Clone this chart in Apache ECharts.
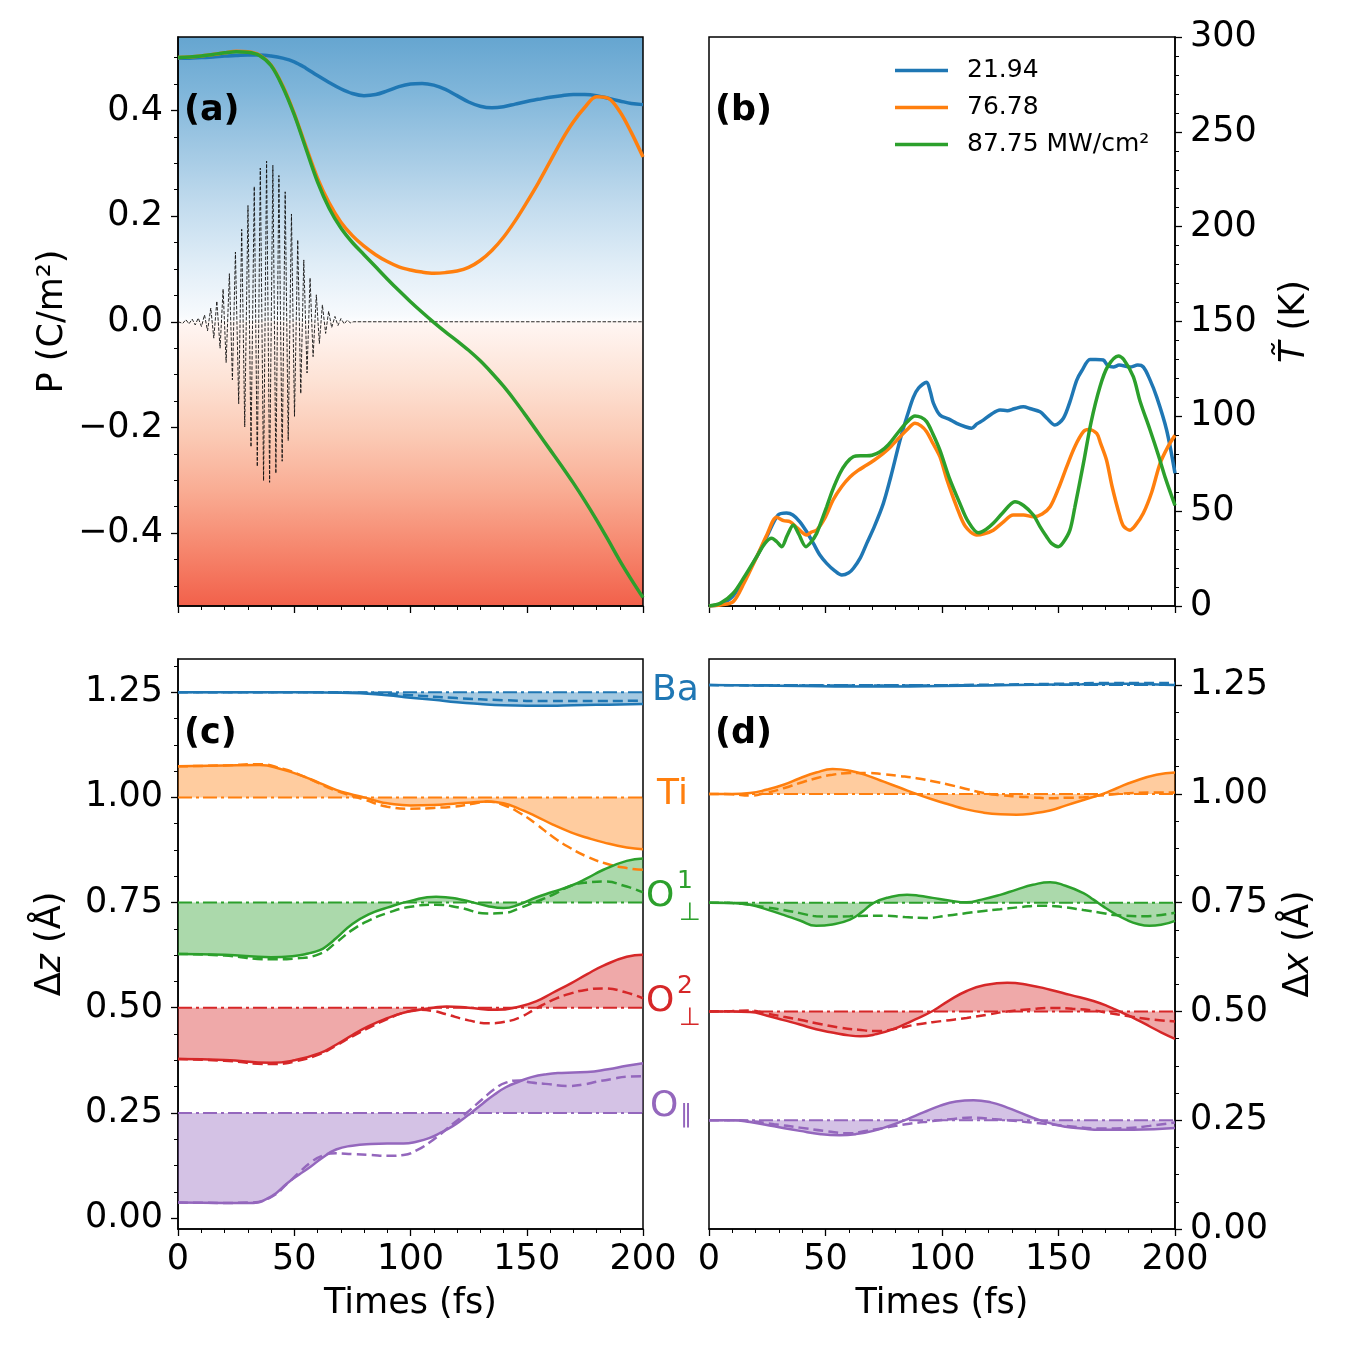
<!DOCTYPE html>
<html>
<head>
<meta charset="utf-8">
<title>Polarization, temperature and ionic displacement</title>
<script src="https://cdn.jsdelivr.net/npm/echarts@6/dist/echarts.min.js"></script>
<style>
html,body{margin:0;padding:0;background:#fff;}
#main{width:1350px;height:1350px;}
</style>
</head>
<body>
<div id="main"></div>
<script>
// ---- values ----
// (a) polarization P (C/m2), sampled every 5 fs
var aTimes = [0,5,10,15,20,25,30,35,40,45,50,55,60,65,70,75,80,85,90,95,100,105,110,115,120,125,130,135,140,145,150,155,160,165,170,175,180,185,190,195,200];
var aBlue = [0.499,0.499,0.500,0.501,0.503,0.504,0.505,0.505,0.503,0.499,0.492,0.480,0.466,0.453,0.441,0.432,0.428,0.430,0.437,0.445,0.450,0.451,0.448,0.440,0.428,0.416,0.408,0.405,0.407,0.412,0.417,0.421,0.425,0.428,0.430,0.430,0.428,0.423,0.418,0.413,0.411];
var aOrange = [0.500,0.501,0.503,0.506,0.509,0.512,0.511,0.505,0.486,0.447,0.394,0.332,0.272,0.225,0.189,0.163,0.143,0.127,0.114,0.104,0.098,0.094,0.092,0.093,0.096,0.103,0.116,0.135,0.160,0.191,0.226,0.263,0.303,0.343,0.378,0.406,0.426,0.423,0.398,0.358,0.312];
var aGreen = [0.500,0.501,0.503,0.506,0.509,0.511,0.510,0.504,0.485,0.445,0.392,0.328,0.265,0.215,0.178,0.150,0.127,0.104,0.081,0.059,0.038,0.018,-0.001,-0.019,-0.036,-0.054,-0.074,-0.097,-0.122,-0.150,-0.180,-0.211,-0.242,-0.273,-0.305,-0.339,-0.375,-0.413,-0.452,-0.488,-0.522];
// laser pulse: [time (fs), extremum]
var aPulse = [[0,0],[0.7,0.003],[2.05,-0.003],[3.4,0.004],[4.7,-0.004],[6.1,0.005],[7.4,-0.006],[8.7,0.007],[10.1,-0.009],[11.4,0.013],[12.7,-0.017],[14.1,0.026],[15.4,-0.031],[16.7,0.039],[18.1,-0.050],[19.4,0.062],[20.7,-0.077],[22.1,0.091],[23.4,-0.110],[24.7,0.132],[26.1,-0.155],[27.4,0.175],[28.7,-0.199],[30.1,0.220],[31.4,-0.237],[32.8,0.256],[34.1,-0.274],[35.4,0.291],[36.8,-0.301],[38.1,0.304],[39.4,-0.304],[40.8,0.296],[42.1,-0.287],[43.4,0.277],[44.8,-0.264],[46.1,0.246],[47.4,-0.225],[48.8,0.204],[50.1,-0.179],[51.5,0.155],[52.8,-0.136],[54.1,0.117],[55.5,-0.097],[56.8,0.083],[58.1,-0.066],[59.5,0.051],[60.8,-0.041],[62.1,0.032],[63.5,-0.022],[64.8,0.020],[66.1,-0.011],[67.5,0.010],[68.8,-0.007],[70.1,0.006],[71.5,-0.004],[72.8,0.003],[74.1,-0.002],[75.5,0],[200,0]];

// (b) temperature (K) for three intensities, [time (fs), T]
var bNames = ['21.94', '76.78', '87.75 MW/cm\u00b2'];
var bBlue = [[0,0],[5,1],[10,4.9],[15,14],[20.5,26],[25,37],[29.7,48],[33.3,49],[36,48],[39,44.4],[42,39],[44.8,33],[47.5,27],[50.5,22.5],[54,18.5],[57,16.3],[60,17.5],[62,19.9],[65,25.5],[67.7,33],[71,42],[74.8,54],[78,68],[82,87.5],[85,100],[87.7,110],[90,115],[93.4,118],[95,113],[96.3,107],[99.1,100.7],[103,98.5],[106.3,96.3],[110,94.5],[112.7,93.7],[115,96],[117.7,98],[121,101],[124.9,103.3],[128,103],[131,104],[134.9,105],[138,104],[142.1,102.4],[145,99],[148.5,95.4],[152.1,99],[155,108],[157.8,119],[160,124],[163.5,130],[166,130],[169.2,129.7],[171,127],[173.6,126],[176,127],[180.7,126],[184,127],[186.4,126],[189,120],[192.2,110],[196.4,92.8],[200,70]];
var bOrange = [[0,0],[5,0.5],[10.4,2.3],[15,12],[20.5,26],[25,38],[29,46.8],[32,45],[34.8,44.4],[38,41],[41.9,37.4],[44,39],[46.2,40],[50,47],[53.3,56],[57,63],[60.5,68],[64,71.5],[67.7,74.3],[71,77],[74.8,80.5],[78,84],[82,89.2],[85,93],[88.4,96.3],[91,95],[93.4,91.9],[96,86],[99.1,78.7],[102,67],[106.3,52.3],[110,42],[114.9,37.4],[118,38],[122,40],[126,44],[130.6,48],[135,48],[139.2,47],[143,48.5],[146.4,52.3],[150,62],[153.5,73.4],[157,84],[160.7,91.9],[163,93],[166.4,91],[168,86],[170.6,77],[173,63],[176.4,47],[178,42],[180.7,40],[183,42.5],[186.4,48.9],[190,60],[193.6,75.2],[197,84],[200,90]];
var bGreen = [[0,0],[5,1.5],[10.4,6.7],[15,15],[20.5,26],[24,33],[26.9,35.7],[29,34],[31.2,31.3],[33.5,37],[36.2,42.7],[38.5,38],[41.6,31.3],[44,34],[46.2,38.3],[48,44],[50.5,52.3],[53,61],[56.2,70],[59,75.5],[61.9,78.7],[65,79.2],[67.7,79.2],[70,79.5],[73.4,81.3],[77,85],[82,92.8],[85,97],[88.4,100.2],[91,99.5],[93.4,97.2],[96,91],[99.1,82.2],[103,68],[107.7,54],[111,45],[115.6,38.6],[119,40.5],[122,43.6],[126,49],[131.3,55],[135,53],[139.2,48],[142,42],[144.9,36.5],[147,33],[149.9,31.3],[152,33.5],[154.9,40],[157,52],[160.7,75.2],[164,97],[167.8,115.6],[171,126],[175.7,131.8],[178,130],[182.1,120.9],[185,108],[189.3,92.8],[193,79],[196,67],[200,53]];

// (c) displacement along z (Å), solid / dashed, offset per species
var species = ['Ba', 'Ti', 'O1perp', 'O2perp', 'Opar'];
var cBase = [1.25, 1.00, 0.75, 0.50, 0.25];
var cBa = [[0,1.25],[40,1.25],[70,1.249],[80,1.247],[90,1.243],[100,1.237],[110,1.232],[120,1.226],[130,1.222],[140,1.219],[150,1.218],[160,1.218],[170,1.219],[180,1.220],[190,1.221],[200,1.222]];
var cBaDash = [[0,1.25],[60,1.25],[80,1.249],[100,1.243],[120,1.236],[140,1.231],[160,1.229],[180,1.229],[200,1.230]];
var cTi = [[0,1.074],[20,1.076],[35,1.077],[45,1.066],[54,1.050],[61,1.034],[68,1.018],[74,1.008],[80,1.000],[85,0.992],[90,0.986],[100,0.981],[110,0.982],[118.5,0.985],[126,0.988],[133,0.990],[140,0.986],[147,0.972],[154,0.955],[161,0.936],[169,0.917],[176,0.904],[183,0.893],[193,0.881],[200,0.877]];
var cTiDash = [[0,1.074],[20,1.076],[35,1.079],[45,1.068],[54,1.050],[68,1.016],[80,0.995],[90,0.978],[100,0.973],[110,0.975],[118.5,0.978],[126,0.984],[133,0.990],[140,0.982],[147,0.963],[154,0.937],[161,0.907],[168,0.882],[176,0.859],[184,0.843],[193,0.832],[200,0.828]];
var cO1 = [[0,0.628],[20,0.626],[40,0.620],[50,0.623],[56,0.629],[61,0.637],[64,0.647],[68,0.665],[75,0.699],[82,0.722],[90,0.738],[100,0.754],[111,0.764],[121,0.758],[133,0.742],[140,0.737],[147,0.746],[154,0.762],[161,0.775],[169,0.790],[176,0.808],[183,0.828],[193,0.849],[200,0.855]];
var cO1Dash = [[0,0.628],[20,0.624],[40,0.615],[50,0.617],[61,0.628],[68,0.655],[75,0.685],[82,0.707],[90,0.725],[100,0.740],[111,0.745],[121,0.738],[133,0.724],[140,0.725],[147,0.737],[154,0.752],[161,0.768],[169,0.790],[176,0.798],[183,0.800],[193,0.788],[200,0.774]];
var cO2 = [[0,0.378],[20,0.376],[40,0.369],[50,0.375],[61,0.392],[68,0.412],[75,0.435],[82,0.456],[90,0.475],[97,0.488],[104,0.495],[110,0.500],[115.5,0.503],[125,0.500],[137,0.495],[147,0.503],[154,0.515],[161,0.535],[169,0.558],[176,0.580],[183,0.600],[193,0.621],[200,0.626]];
var cO2Dash = [[0,0.378],[20,0.374],[40,0.366],[50,0.372],[61,0.390],[68,0.410],[75,0.432],[82,0.452],[90,0.473],[97,0.488],[104,0.495],[110,0.492],[115,0.485],[125,0.470],[134,0.463],[140,0.466],[147,0.477],[154,0.498],[161,0.518],[169,0.534],[176,0.543],[183,0.546],[193,0.536],[200,0.522]];
var cO3 = [[0,0.037],[20,0.036],[31,0.036],[40,0.051],[47,0.083],[52,0.103],[57,0.122],[62,0.143],[68,0.163],[75,0.172],[83,0.176],[90,0.177],[97,0.177],[103,0.182],[108,0.190],[113,0.203],[118,0.218],[122,0.233],[126,0.250],[131,0.272],[136,0.293],[141,0.311],[147,0.325],[152,0.335],[158.5,0.342],[165,0.345],[176,0.347],[185,0.354],[193,0.362],[200,0.368]];
var cO3Dash = [[0,0.037],[20,0.036],[31,0.037],[40,0.050],[47,0.082],[52,0.108],[57,0.132],[62,0.148],[68,0.154],[75,0.152],[83,0.150],[90,0.148],[97,0.150],[103,0.162],[108,0.179],[113,0.200],[118,0.223],[122,0.240],[126,0.259],[131,0.283],[136,0.306],[141,0.322],[147,0.327],[152,0.322],[158,0.319],[168,0.314],[175,0.318],[180,0.324],[187,0.331],[193,0.336],[200,0.337]];

// (d) displacement along x (Å)
var dBase = [1.25, 1.00, 0.75, 0.50, 0.25];
var dBa = [[0,1.250],[20,1.249],[40,1.248],[60,1.247],[80,1.247],[100,1.248],[120,1.249],[140,1.251],[160,1.252],[180,1.253],[190,1.252],[200,1.250]];
var dBaDash = [[0,1.250],[40,1.249],[80,1.249],[120,1.251],[150,1.253],[170,1.255],[200,1.255]];
var dTi = [[0,1.000],[10,1.000],[17.6,1.002],[25,1.010],[32,1.021],[39,1.036],[46,1.049],[53,1.057],[60.5,1.053],[68,1.042],[75,1.028],[82,1.014],[89,1.000],[96,0.987],[103.4,0.975],[110,0.965],[117.7,0.957],[125,0.953],[132,0.952],[139,0.955],[146.4,0.962],[153,0.973],[160.7,0.986],[169,1.000],[175,1.013],[182,1.028],[192,1.044],[200,1.049]];
var dTiDash = [[0,1.000],[10,0.999],[17.6,0.996],[25,1.003],[32,1.013],[39,1.025],[46,1.036],[53,1.044],[60.5,1.048],[68,1.048],[75,1.045],[82,1.041],[89,1.036],[96,1.029],[103,1.021],[110,1.012],[118,1.002],[125,0.997],[132,0.994],[139,0.992],[146,0.990],[153,0.991],[160.7,0.992],[168,0.996],[175,1.000],[182,1.002],[189,1.003],[200,1.003]];
var dO1 = [[0,0.750],[10,0.749],[17.6,0.745],[25,0.734],[32,0.722],[39,0.709],[46,0.697],[53,0.700],[60.5,0.711],[66,0.730],[70.5,0.749],[77,0.762],[85,0.768],[90,0.766],[96,0.761],[103,0.755],[110.6,0.751],[117,0.757],[125,0.768],[132,0.780],[139,0.791],[146.4,0.797],[153,0.789],[160.7,0.772],[165,0.757],[169,0.742],[174,0.725],[179,0.711],[184,0.701],[189,0.697],[194,0.699],[200,0.708]];
var dO1Dash = [[0,0.750],[10,0.749],[17.6,0.745],[25,0.739],[32,0.733],[39,0.726],[46,0.719],[53,0.718],[60.5,0.719],[68,0.720],[75,0.720],[84,0.717],[93,0.715],[102,0.720],[110.6,0.726],[118,0.731],[125,0.735],[134,0.740],[143,0.743],[152,0.740],[160.7,0.733],[168,0.727],[175,0.721],[187,0.719],[200,0.727]];
var dO2 = [[0,0.500],[10,0.500],[17.6,0.499],[25,0.490],[32,0.480],[39,0.470],[46,0.459],[53.5,0.451],[60,0.445],[65,0.443],[72,0.448],[79,0.459],[87,0.478],[96,0.501],[103,0.525],[110.6,0.547],[118,0.560],[128,0.566],[137,0.561],[146.4,0.550],[155,0.538],[165,0.524],[172,0.510],[179,0.493],[184,0.480],[189,0.466],[194,0.452],[200,0.437]];
var dO2Dash = [[0,0.500],[10,0.501],[17.6,0.502],[25,0.495],[32,0.488],[39,0.481],[46,0.473],[56,0.463],[64,0.458],[72,0.455],[80,0.460],[89,0.470],[100,0.478],[110.6,0.485],[120,0.493],[128,0.500],[138,0.505],[147,0.508],[156,0.506],[165,0.502],[172,0.496],[179,0.490],[189,0.482],[200,0.477]];
var dO3 = [[0,0.250],[10,0.250],[17.6,0.246],[28,0.236],[39,0.2255],[48,0.218],[56,0.2156],[63,0.218],[70.5,0.2255],[78,0.238],[85,0.252],[92,0.268],[99,0.283],[106,0.293],[113.6,0.296],[121,0.291],[128,0.279],[136,0.262],[145,0.245],[153,0.235],[160,0.231],[168,0.228],[182,0.228],[200,0.232]];
var dO3Dash = [[0,0.250],[10,0.250],[17.6,0.248],[28,0.241],[39,0.233],[50,0.225],[60.5,0.220],[68,0.226],[76,0.233],[86,0.242],[96,0.248],[105,0.253],[113.6,0.256],[123,0.252],[132,0.248],[142,0.243],[153,0.237],[168,0.231],[180,0.232],[189,0.237],[200,0.245]];

// tick positions
var aTicks = [-0.4, -0.2, 0, 0.2, 0.4];
var aMinor = [-0.5,-0.45,-0.35,-0.3,-0.25,-0.15,-0.1,-0.05,0.05,0.1,0.15,0.25,0.3,0.35,0.45,0.5];
var cdTicks = [0, 0.25, 0.5, 0.75, 1.0, 1.25];
var cMinor = [0.0625,0.125,0.1875,0.3125,0.375,0.4375,0.5625,0.625,0.6875,0.8125,0.875,0.9375,1.0625,1.125,1.1875,1.3125];
var dMinor = [0.0625,0.125,0.1875,0.3125,0.375,0.4375,0.5625,0.625,0.6875,0.8125,0.875,0.9375,1.0625,1.125,1.1875];

var FONT = 'DejaVu Sans';
var COL = ['#1f77b4', '#ff7f0e', '#2ca02c', '#d62728', '#9467bd'];

var chart = echarts.init(document.getElementById('main'), null, {renderer: 'canvas'});

function pairs(xs, ys) {
    return xs.map(function (x, i) { return [x, ys[i]]; });
}
function xAx(gi, withLabels) {
    return {
        type: 'value', gridIndex: gi, min: 0, max: 200, interval: 50, position: 'bottom',
        axisLine: {show: true, onZero: false, lineStyle: {color: '#000', width: 1.5}},
        axisTick: {show: true, length: 7, lineStyle: {color: '#000', width: 1.3}},
        minorTick: {show: true, splitNumber: 5, length: 4, lineStyle: {color: '#000', width: 1}},
        axisLabel: {show: withLabels, fontSize: 35, color: '#000', margin: 13, fontFamily: FONT},
        splitLine: {show: false}, minorSplitLine: {show: false},
        name: withLabels ? 'Times (fs)' : '', nameLocation: 'middle', nameGap: 57,
        nameTextStyle: {fontSize: 35, color: '#000', fontFamily: FONT}
    };
}
function yMain(gi, pos, min, max, ticks, fmt, name, gap) {
    return {
        type: 'value', gridIndex: gi, position: pos, min: min, max: max,
        axisLine: {show: true, onZero: false, lineStyle: {color: '#000', width: 1.5}},
        axisTick: {show: true, customValues: ticks, length: 7, lineStyle: {color: '#000', width: 1.3}},
        axisLabel: {show: true, customValues: ticks, formatter: fmt, fontSize: 35, color: '#000', margin: 15, fontFamily: FONT},
        splitLine: {show: false},
        name: name, nameLocation: 'middle', nameRotate: 90, nameGap: gap,
        nameTextStyle: {fontSize: 35, color: '#000', fontFamily: FONT,
            rich: {i: {fontSize: 35, fontStyle: 'italic', fontFamily: FONT}, r: {fontSize: 35, fontFamily: FONT}}}
    };
}
function yMinor(gi, pos, min, max, ticks) {
    return {
        type: 'value', gridIndex: gi, position: pos, min: min, max: max,
        axisLine: {show: false, onZero: false}, axisLabel: {show: false}, splitLine: {show: false},
        axisTick: {show: true, customValues: ticks, length: 4, lineStyle: {color: '#000', width: 1}}
    };
}
function fmt1(v) { return (v < 0 ? '\u2212' : '') + Math.abs(v).toFixed(1); }
function fmt2(v) { return v.toFixed(2); }

function ln(name, data, xi, yi, color, width, extra) {
    var s = {
        name: name, type: 'line', xAxisIndex: xi, yAxisIndex: yi, data: data,
        symbol: 'none', smooth: 0.5, lineStyle: {color: color, width: width}, itemStyle: {color: color},
        emphasis: {disabled: true}
    };
    for (var k in extra) s[k] = extra[k];
    return s;
}

var series = [];
// (a)
series.push(ln('pulse', aPulse, 0, 0, '#000', 1, {smooth: false, lineStyle: {color: '#111', width: 0.9, type: [3.5, 1.6]}}));
series.push(ln('a-blue', pairs(aTimes, aBlue), 0, 0, COL[0], 3.5, {smooth: 0.35}));
series.push(ln('a-orange', pairs(aTimes, aOrange), 0, 0, COL[1], 3.5, {smooth: 0.35}));
series.push(ln('a-green', pairs(aTimes, aGreen), 0, 0, COL[2], 3.5, {smooth: 0.35}));
// (b)
series.push(ln(bNames[0], bBlue, 1, 2, COL[0], 3.5, {smooth: 0.3}));
series.push(ln(bNames[1], bOrange, 1, 2, COL[1], 3.5, {smooth: 0.3}));
series.push(ln(bNames[2], bGreen, 1, 2, COL[2], 3.5, {smooth: 0.3}));
// (c) and (d): reference level, shaded solid curve, dashed curve
var cSolid = [cBa, cTi, cO1, cO2, cO3], cDash = [cBaDash, cTiDash, cO1Dash, cO2Dash, cO3Dash];
var dSolid = [dBa, dTi, dO1, dO2, dO3], dDash = [dBaDash, dTiDash, dO1Dash, dO2Dash, dO3Dash];
function panel(xi, yi, base, solid, dash, tag) {
    for (var i = 0; i < species.length; i++) {
        var c = COL[i];
        series.push(ln(tag + species[i] + '-ref', [[0, base[i]], [200, base[i]]], xi, yi, c, 2,
            {smooth: false, lineStyle: {color: c, width: 2, type: [14, 4, 3, 4]}}));
        series.push(ln(tag + species[i], solid[i], xi, yi, c, 2.5,
            {areaStyle: {color: c, opacity: 0.4, origin: base[i]}}));
        series.push(ln(tag + species[i] + '-dash', dash[i], xi, yi, c, 2.5,
            {lineStyle: {color: c, width: 2.5, type: [10, 5]}}));
    }
}
panel(2, 3, cBase, cSolid, cDash, 'c-');
panel(3, 5, dBase, dSolid, dDash, 'd-');

var bgGrad = new echarts.graphic.LinearGradient(0, 0, 0, 1, [
    {offset: 0, color: '#65a5d0'}, {offset: 0.1, color: '#80b6da'}, {offset: 0.2, color: '#a2c9e4'},
    {offset: 0.3, color: '#c3dcee'}, {offset: 0.4, color: '#e0edf7'}, {offset: 0.49, color: '#f7fafd'},
    {offset: 0.5, color: '#fdfdfe'}, {offset: 0.5, color: '#fff8f5'}, {offset: 0.51, color: '#fff4f0'},
    {offset: 0.6, color: '#fde3d6'}, {offset: 0.7, color: '#fbcab5'}, {offset: 0.8, color: '#f9ab92'},
    {offset: 0.9, color: '#f6866d'}, {offset: 1, color: '#f2604a'}
]);

function panelLabel(txt, x, y) {
    return {type: 'text', x: x, y: y, z: 100,
        style: {text: txt, fill: '#000', font: 'bold 35px "DejaVu Sans"', textAlign: 'left', textVerticalAlign: 'middle'}};
}

var option = {
    animation: false,
    backgroundColor: '#fff',
    textStyle: {fontFamily: FONT},
    grid: [
        {left: 178, top: 37, width: 465, height: 569, show: true, backgroundColor: bgGrad, borderColor: '#000', borderWidth: 1.5},
        {left: 709, top: 37, width: 466, height: 569, show: true, backgroundColor: 'transparent', borderColor: '#000', borderWidth: 1.5},
        {left: 178, top: 659, width: 465, height: 570, show: true, backgroundColor: 'transparent', borderColor: '#000', borderWidth: 1.5},
        {left: 709, top: 659, width: 466, height: 570, show: true, backgroundColor: 'transparent', borderColor: '#000', borderWidth: 1.5}
    ],
    xAxis: [xAx(0, false), xAx(1, false), xAx(2, true), xAx(3, true)],
    yAxis: [
        yMain(0, 'left', -0.538, 0.539, aTicks, fmt1, 'P (C/m\u00b2)', 108),
        yMinor(0, 'left', -0.538, 0.539, aMinor),
        {
            type: 'value', gridIndex: 1, position: 'right', min: 0, max: 300, interval: 50,
            axisLine: {show: true, onZero: false, lineStyle: {color: '#000', width: 1.5}},
            axisTick: {show: true, length: 7, lineStyle: {color: '#000', width: 1.3}},
            minorTick: {show: true, splitNumber: 5, length: 4, lineStyle: {color: '#000', width: 1}},
            axisLabel: {fontSize: 35, color: '#000', margin: 15, fontFamily: FONT},
            splitLine: {show: false}, minorSplitLine: {show: false},
            name: '{i|T\u0303}{r| (K)}', nameLocation: 'middle', nameRotate: 90, nameGap: 102,
            nameTextStyle: {fontSize: 35, color: '#000', fontFamily: FONT,
                rich: {i: {fontSize: 35, fontStyle: 'italic', fontFamily: FONT}, r: {fontSize: 35, fontFamily: FONT}}}
        },
        yMain(2, 'left', -0.026, 1.329, cdTicks, fmt2, '{r|\u0394}{i|z}{r| (\u00c5)}', 110),
        yMinor(2, 'left', -0.026, 1.329, cMinor),
        yMain(3, 'right', 0, 1.31, cdTicks, fmt2, '{r|\u0394}{i|x}{r| (\u00c5)}', 106),
        yMinor(3, 'right', 0, 1.31, dMinor)
    ],
    legend: {
        data: bNames, orient: 'vertical', left: 895, top: 58, padding: 0,
        icon: 'rect', itemWidth: 53, itemHeight: 3.5, itemGap: 12,
        textStyle: {fontSize: 25, color: '#000', fontFamily: FONT, padding: [0, 0, 0, 14]}
    },
    series: series,
    graphic: [
        panelLabel('(a)', 184, 111), panelLabel('(b)', 715, 111),
        panelLabel('(c)', 184, 734), panelLabel('(d)', 715, 734)
    ]
};
chart.setOption(option);

// species names between (c) and (d), placed at the end of each reference level
var names = [
    {main: 'Ba', dx: 9, dy: -2},
    {main: 'Ti', dx: 14, dy: -3},
    {main: 'O', sup: '1', sub: '\u22a5', dx: 3, dy: -6},
    {main: 'O', sup: '2', sub: '\u22a5', dx: 3, dy: -6},
    {main: 'O', sub: '\u2225', dx: 7, dy: -6, subDx: 30, subDy: 9}
];
var extra = [];
names.forEach(function (n, i) {
    var p = chart.convertToPixel({gridIndex: 2}, [200, cBase[i]]);
    var x = p[0] + n.dx, y = p[1] + n.dy;
    var st = {fill: COL[i], textAlign: 'left', textVerticalAlign: 'middle'};
    extra.push({type: 'text', x: x, y: y, z: 100,
        style: echarts.util.extend({text: n.main, font: '36px "DejaVu Sans"'}, st)});
    var w = n.main === 'O' ? 28 : 0;
    if (n.sup) {
        extra.push({type: 'text', x: x + w + 3, y: y - 15, z: 100,
            style: echarts.util.extend({text: n.sup, font: '25px "DejaVu Sans"'}, st)});
    }
    if (n.sub) {
        extra.push({type: 'text', x: x + (n.subDx || w + 5), y: y + (n.subDy || 17), z: 100,
            style: echarts.util.extend({text: n.sub, font: '25px "DejaVu Sans"'}, st)});
    }
});
chart.setOption({graphic: option.graphic.concat(extra)});

window.addEventListener('resize', function () {
    chart.resize();
});
</script>
</body>
</html>
